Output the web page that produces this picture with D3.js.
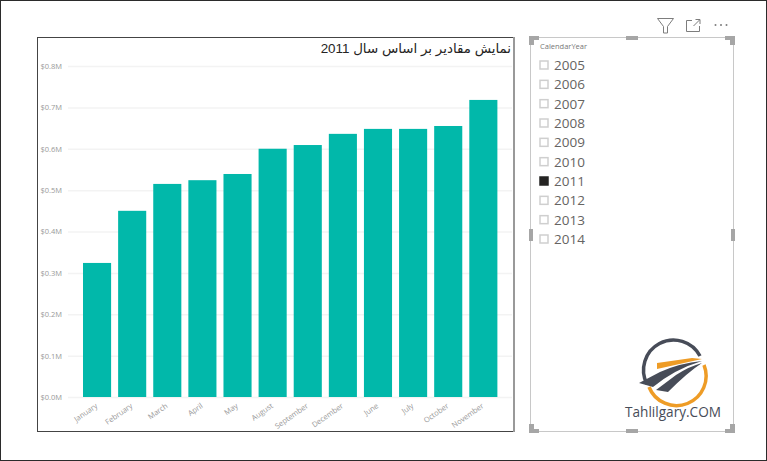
<!DOCTYPE html>
<html lang="en">
  <head>
    <meta charset="UTF-8" />
    <title>Power BI report</title>
    <script src="https://d3js.org/d3.v7.min.js"></script>
    <style>
      body {
        margin: 0;
        padding: 0;
        background: #fff;
        overflow: hidden;
      }
      svg,
      svg text {
        display: block;
        font-family: "Open Sans", sans-serif;
      }
      .domain {
        display: none;
      }
      .y-axis line {
        stroke: #f3f3f3;
        stroke-width: 1.5;
      }
      .y-axis text,
      .x-axis text {
        fill: #999;
        font-size: 7.5px;
      }
      .x-axis line {
        display: none;
      }
    </style>
  </head>
  <body>
    <div id="chart"></div>
    <script>
      const months = [
        "January", "February", "March", "April", "May", "August",
        "September", "December", "June", "July", "October", "November",
      ];
      const sales = [
        0.324, 0.45, 0.515, 0.524, 0.539, 0.6,
        0.609, 0.636, 0.648, 0.648, 0.655, 0.718,
      ];
      const yTicks = [0, 0.1, 0.2, 0.3, 0.4, 0.5, 0.6, 0.7, 0.8];
      const years = [2005, 2006, 2007, 2008, 2009, 2010, 2011, 2012, 2013, 2014];
      const selectedYear = 2011;

      const width = 767;
      const height = 461;

      const svg = d3
        .select("#chart")
        .append("svg")
        .attr("width", width)
        .attr("height", height);

      // window border
      svg
        .append("rect")
        .attr("x", 0.5)
        .attr("y", 0.5)
        .attr("width", width - 1)
        .attr("height", height - 1)
        .attr("fill", "none")
        .attr("stroke", "#2b2b2b");

      // chart frame
      svg
        .append("rect")
        .attr("x", 37.5)
        .attr("y", 37.5)
        .attr("width", 476)
        .attr("height", 394)
        .attr("fill", "#fff")
        .attr("stroke", "#444");
      svg
        .append("line")
        .attr("x1", 514)
        .attr("x2", 514)
        .attr("y1", 37)
        .attr("y2", 432)
        .attr("stroke", "#999")
        .attr("stroke-width", 2);

      const xScale = d3
        .scaleBand()
        .domain(months)
        .range([79.5, 500.9])
        .paddingInner(0.2)
        .paddingOuter(0.1);

      const yScale = d3.scaleLinear().domain([0, 0.8]).range([397, 66]);

      // y axis with gridlines
      svg
        .append("g")
        .attr("class", "y-axis")
        .attr("transform", "translate(68,0)")
        .call(
          d3
            .axisLeft(yScale)
            .tickValues(yTicks)
            .tickSize(-444)
            .tickPadding(6)
            .tickFormat((d) => "$" + d.toFixed(1) + "M")
        );

      svg
        .selectAll("rect.bar")
        .data(months)
        .enter()
        .append("rect")
        .attr("class", "bar")
        .attr("x", (d) => xScale(d))
        .attr("y", (d, i) => yScale(sales[i]))
        .attr("width", xScale.bandwidth())
        .attr("height", (d, i) => yScale(0) - yScale(sales[i]))
        .attr("fill", "#01b8aa");

      // x axis, rotated labels
      svg
        .append("g")
        .attr("class", "x-axis")
        .attr("transform", "translate(0,397)")
        .call(d3.axisBottom(xScale).tickSize(0).tickPadding(0))
        .selectAll("text")
        .attr("text-anchor", "end")
        .attr("x", 0)
        .attr("y", 0)
        .attr("dy", 0)
        .attr("transform", "translate(1,10) rotate(-35)");

      // title
      svg
        .append("text")
        .attr("x", 511)
        .attr("y", 53)
        .attr("direction", "rtl")
        .attr("text-anchor", "start")
        .attr("fill", "#252423")
        .style("font-family", "'Liberation Sans', 'DejaVu Sans', sans-serif")
        .style("font-size", "13.4px")
        .text("نمایش مقادیر بر اساس سال 2011");

      // slicer frame
      svg
        .append("rect")
        .attr("x", 530.5)
        .attr("y", 37.5)
        .attr("width", 203)
        .attr("height", 394)
        .attr("fill", "#fff")
        .attr("stroke", "#c8c8c8");

      // resize handles
      const handle = "#a6a6a6";
      const corners = [
        [529, 36, 1, 1],
        [735, 36, -1, 1],
        [529, 433, 1, -1],
        [735, 433, -1, -1],
      ];
      corners.forEach(([cx, cy, sx, sy]) => {
        svg
          .append("path")
          .attr("fill", handle)
          .attr(
            "d",
            `M${cx},${cy}h${sx * 10}v${sy * 4}h${-sx * 5}v${sy * 5}h${-sx * 5}z`
          );
      });
      const edges = [
        [626, 36, 12, 4],
        [626, 429, 12, 4],
        [529, 229, 4, 12],
        [731, 229, 4, 12],
      ];
      edges.forEach(([ex, ey, ew, eh]) => {
        svg
          .append("rect")
          .attr("x", ex)
          .attr("y", ey)
          .attr("width", ew)
          .attr("height", eh)
          .attr("fill", handle);
      });

      // slicer header and items
      svg
        .append("text")
        .attr("x", 540)
        .attr("y", 49)
        .attr("fill", "#777")
        .style("font-size", "7.5px")
        .text("CalendarYear");

      const yearScale = d3
        .scalePoint()
        .domain(years)
        .range([65, 239]);

      const items = svg
        .selectAll("g.item")
        .data(years)
        .enter()
        .append("g")
        .attr("class", "item")
        .attr("transform", (d) => `translate(540,${yearScale(d)})`);

      items
        .append("rect")
        .attr("x", 0)
        .attr("y", -4)
        .attr("width", 8)
        .attr("height", 8)
        .attr("fill", (d) => (d === selectedYear ? "#252423" : "#fff"))
        .attr("stroke-width", 1.5)
        .attr("stroke", (d) => (d === selectedYear ? "#252423" : "#cfcfcf"));

      items
        .append("text")
        .attr("x", 14)
        .attr("y", 5)
        .attr("fill", "#666462")
        .style("font-size", "13.5px")
        .text((d) => d);

      // header icons
      const icons = svg
        .append("g")
        .attr("fill", "none")
        .attr("stroke", "#7d7d7d")
        .attr("stroke-width", 1);
      icons.append("path").attr("d", "M657.5,18.5h16l-6,8v6.5l-4,0v-6.5z");
      icons
        .append("path")
        .attr("d", "M692,20.5h-5.5v11h13v-5.5M693.5,26l6,-6M695.5,19.5h4.5v4.5");
      svg
        .selectAll("circle.dot")
        .data([0, 1, 2])
        .enter()
        .append("circle")
        .attr("class", "dot")
        .attr("cx", (d) => 715.5 + d * 5.5)
        .attr("cy", 25)
        .attr("r", 1)
        .attr("fill", "#7d7d7d");

      // logo
      const logo = svg.append("g");
      logo
        .append("path")
        .attr("d", "M647,384A29.5,29.5 0 0 1 700,356")
        .attr("fill", "none")
        .attr("stroke", "#474c58")
        .attr("stroke-width", 3.5);
      logo
        .append("path")
        .attr("d", "M704,365A29.5,29.5 0 0 1 649,387")
        .attr("fill", "none")
        .attr("stroke", "#ee9c26")
        .attr("stroke-width", 3.5);
      logo
        .append("path")
        .attr("d", "M657,363L657,369L702,359L692,358z")
        .attr("fill", "#ee9c26");
      logo
        .append("path")
        .attr("d", "M639,383L660,372Q680,363 702,361Q675,369 653,387z")
        .attr("fill", "#474c58");
      logo
        .append("path")
        .attr("d", "M656,390L676,375Q690,366 702,363Q688,372 668,392z")
        .attr("fill", "#474c58");
      logo
        .append("text")
        .attr("x", 673)
        .attr("y", 417)
        .attr("text-anchor", "middle")
        .attr("fill", "#474c58")
        .style("font-size", "13.6px")
        .text("Tahlilgary.COM");
    </script>
  </body>
</html>
